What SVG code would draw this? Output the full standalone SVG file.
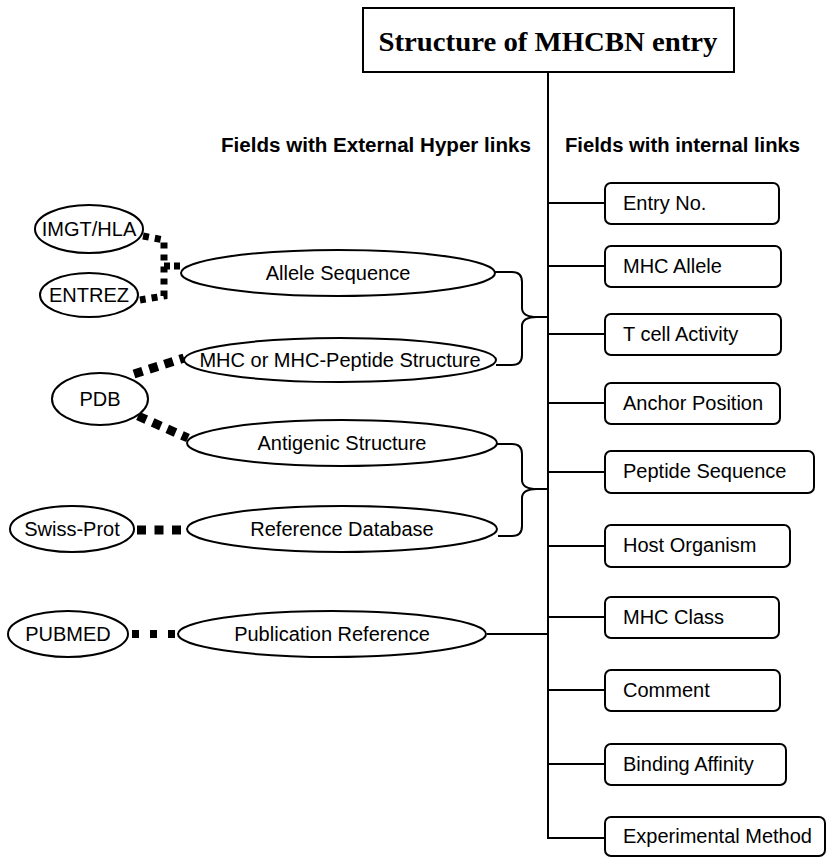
<svg xmlns="http://www.w3.org/2000/svg" width="827" height="858" viewBox="0 0 827 858">
<style>
.ln{fill:none;stroke:#000;stroke-width:2}
.box{fill:#fff;stroke:#000;stroke-width:2}
.t{font-family:"Liberation Sans",Arial,sans-serif;font-size:20px;fill:#000}
.tc{font-family:"Liberation Sans",Arial,sans-serif;font-size:20px;fill:#000;text-anchor:middle}
.h{font-family:"Liberation Sans",Arial,sans-serif;font-size:20px;font-weight:bold;fill:#000}
.dot{fill:none;stroke:#000;stroke-width:7}
</style>
<rect width="827" height="858" fill="#fff"/>
<g id="connectors">
<path class="ln" d="M548,72 V838 H605"/>
<path class="ln" d="M548,203 H605 M548,266 H605 M548,334 H605 M548,403 H605 M548,472 H605 M548,546 H605 M548,617 H605 M548,690 H605 M548,764 H605"/>
<path class="ln" d="M495,272 H512 Q522,272 522,282 V308 Q522,317 537,317 H548 M537,317 Q522,317 522,326 V355 Q522,365 512,365 H496"/>
<path class="ln" d="M497,444 H512 Q522,444 522,454 V480 Q522,489 537,489 H548 M537,489 Q522,489 522,498 V526 Q522,536 512,536 H498"/>
<path class="ln" d="M487,634 H548"/>
<path class="dot" d="M143,236 L164,240 V296 L140,300" stroke-dasharray="6 6"/>
<path class="dot" d="M164,266 H182" stroke-dasharray="6 4"/>
<path d="M134,374 L184,358" stroke="#000" stroke-width="9" stroke-dasharray="9 7"/>
<path d="M138,416 L188,438" stroke="#000" stroke-width="9" stroke-dasharray="9 7"/>
<path d="M137,530 H182" stroke="#000" stroke-width="9" stroke-dasharray="9 8.5"/>
<path d="M132,634 H176" stroke="#000" stroke-width="8" stroke-dasharray="7 11"/>
</g>
<g id="title">
<rect class="box" x="363" y="8" width="371" height="64"/>
<text x="548" y="51" text-anchor="middle" font-family="'Liberation Serif','Times New Roman',serif" font-size="27" font-weight="bold" textLength="339" lengthAdjust="spacingAndGlyphs">Structure of MHCBN entry</text>
</g>
<g id="headings">
<text class="h" x="221" y="152" textLength="310" lengthAdjust="spacingAndGlyphs">Fields with External Hyper links</text>
<text class="h" x="565" y="152" textLength="235" lengthAdjust="spacingAndGlyphs">Fields with internal links</text>
</g>
<g id="entry-no"><rect class="box" x="605" y="183" width="174" height="41" rx="6"/><text class="t" x="623" y="210">Entry No.</text></g>
<g id="mhc-allele"><rect class="box" x="605" y="246" width="176" height="41" rx="6"/><text class="t" x="623" y="273">MHC Allele</text></g>
<g id="t-cell-activity"><rect class="box" x="605" y="314" width="176" height="41" rx="6"/><text class="t" x="623" y="341">T cell Activity</text></g>
<g id="anchor-position"><rect class="box" x="605" y="383" width="175" height="41" rx="6"/><text class="t" x="623" y="410">Anchor Position</text></g>
<g id="peptide-sequence"><rect class="box" x="605" y="451" width="209" height="42" rx="6"/><text class="t" x="623" y="478">Peptide Sequence</text></g>
<g id="host-organism"><rect class="box" x="605" y="525" width="185" height="42" rx="6"/><text class="t" x="623" y="552">Host Organism</text></g>
<g id="mhc-class"><rect class="box" x="605" y="597" width="174" height="41" rx="6"/><text class="t" x="623" y="624">MHC Class</text></g>
<g id="comment"><rect class="box" x="605" y="670" width="175" height="41" rx="6"/><text class="t" x="623" y="697">Comment</text></g>
<g id="binding-affinity"><rect class="box" x="605" y="744" width="181" height="41" rx="6"/><text class="t" x="623" y="771">Binding Affinity</text></g>
<g id="experimental-method"><rect class="box" x="605" y="817" width="220" height="39" rx="6"/><text class="t" x="623" y="843">Experimental Method</text></g>
<g id="allele-sequence"><ellipse class="box" cx="338" cy="273" rx="157" ry="23"/><text class="tc" x="338" y="280">Allele Sequence</text></g>
<g id="mhc-structure"><ellipse class="box" cx="340" cy="360" rx="156" ry="22"/><text class="tc" x="340" y="367">MHC or MHC-Peptide Structure</text></g>
<g id="antigenic-structure"><ellipse class="box" cx="342" cy="443" rx="155" ry="23"/><text class="tc" x="342" y="450">Antigenic Structure</text></g>
<g id="reference-database"><ellipse class="box" cx="342" cy="529" rx="155" ry="23"/><text class="tc" x="342" y="536">Reference Database</text></g>
<g id="publication-reference"><ellipse class="box" cx="332" cy="634" rx="154" ry="23"/><text class="tc" x="332" y="641">Publication Reference</text></g>
<g id="imgt-hla"><ellipse class="box" cx="89" cy="229" rx="54" ry="24"/><text class="tc" x="89" y="236">IMGT/HLA</text></g>
<g id="entrez"><ellipse class="box" cx="89" cy="295" rx="49" ry="22"/><text class="tc" x="89" y="302">ENTREZ</text></g>
<g id="pdb"><ellipse class="box" cx="100" cy="399" rx="48" ry="26"/><text class="tc" x="100" y="406">PDB</text></g>
<g id="swiss-prot"><ellipse class="box" cx="72" cy="529" rx="62" ry="23"/><text class="tc" x="72" y="536">Swiss-Prot</text></g>
<g id="pubmed"><ellipse class="box" cx="68" cy="634" rx="60" ry="23"/><text class="tc" x="68" y="641">PUBMED</text></g>
</svg>
